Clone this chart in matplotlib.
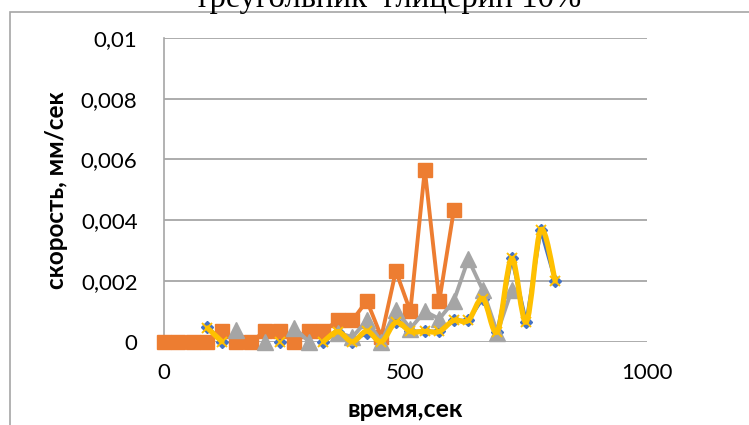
import numpy as np
import matplotlib.pyplot as plt
from matplotlib.path import Path
from matplotlib.patches import PathPatch, Rectangle

# ============================================================
# Data, nan = empty cell
# ============================================================
TITLE = "треугольник  глицерин 10%"
X_LABEL = "время,сек"
Y_LABEL = "скорость, мм/сек"

nan = np.nan

times = [0, 30, 60, 90, 120, 150, 180, 210, 240, 270, 300, 330, 360, 390,
         420, 450, 480, 510, 540, 570, 600, 630, 660, 690, 720, 750, 780, 810]

blue_vals = [nan, nan, nan, 0.0005, 0, nan, nan, nan, 0, nan, nan, 0, 0.00033, 0,
             0.0003, 0, 0.00066, 0.00034, 0.00034, 0.00034, 0.0007, 0.0007,
             0.00142, 0.00033, 0.00274, 0.00065, 0.00368, 0.002]

orange_vals = [0, 0, 0, 0, 0.00035, 0, 0, 0.00035, 0.00035, 0, 0.00035,
               0.00035, 0.0007, 0.0007, 0.00135, 0.00016, 0.00233, 0.001,
               0.00567, 0.00134, 0.00433]

gray_vals = [nan, nan, nan, nan, nan, 0.0004, nan, 0, nan, 0.00045, 0, nan, 0.0003,
             0.00015, 0.0007, 0, 0.00105, 0.00043, 0.001, 0.00075, 0.00134,
             0.00272, 0.0017, 0.0003, 0.0017]

yellow_vals = [nan, nan, nan, 0.00045, 0, nan, nan, nan, 0, nan, nan, 0, 0.00033, 0,
               0.00035, 0, 0.00064, 0.00034, 0.00034, 0.00034, 0.0007, 0.0007,
               0.00142, 0.00033, 0.00274, 0.00065, 0.00368, 0.002]

x_ticks = [0, 500, 1000]
x_tick_labels = ["0", "500", "1000"]
y_ticks = [0, 0.002, 0.004, 0.006, 0.008, 0.01]
y_tick_labels = ["0", "0,002", "0,004", "0,006", "0,008", "0,01"]

BLUE = '#4472C4'
ORANGE = '#ED7D31'
GRAY = '#A5A5A5'
YELLOW = '#FFC000'
GRID = '#a6a6a6'


def smooth_path(xs, ys):
    # Excel-like smoothed line: cubic Bezier through the points
    pts = np.column_stack([xs, ys]).astype(float)
    n = len(pts)
    verts = [pts[0]]
    codes = [Path.MOVETO]
    for i in range(n - 1):
        p0 = pts[i - 1] if i > 0 else pts[i]
        p1 = pts[i]
        p2 = pts[i + 1]
        p3 = pts[i + 2] if i + 2 < n else pts[i + 1]
        c1 = p1 + (p2 - p0) / 6.0
        c2 = p2 - (p3 - p1) / 6.0
        verts += [c1, c2, p2]
        codes += [Path.CURVE4] * 3
    return Path(verts, codes)


def segments(xs, ys):
    # runs of consecutive non-empty values
    xs = np.asarray(xs, float)
    ys = np.asarray(ys, float)
    runs, cur = [], []
    for x, y in zip(xs, ys):
        if np.isnan(y):
            if cur:
                runs.append(cur)
            cur = []
        else:
            cur.append((x, y))
    if cur:
        runs.append(cur)
    return runs


fig = plt.figure(figsize=(7.49, 4.25), dpi=100)
plt.rcParams['font.family'] = ['Lato', 'DejaVu Sans']

# chart area frame (runs off the right and bottom edges)
fig.add_artist(Rectangle((10 / 749, -0.1), 1.0, 1.1 - 12 / 425,
                         transform=fig.transFigure, fill=False,
                         edgecolor='#a6a6a6', linewidth=1.2))

ax = fig.add_axes([164 / 749, 1 - 341.7 / 425, (647 - 164) / 749, (341.7 - 38) / 425])

ax.set_xlim(0, 1000)
ax.set_ylim(0, 0.01)
ax.set_yticks(y_ticks)
ax.set_yticklabels(y_tick_labels, fontsize=16)
ax.set_xticks(x_ticks)
ax.set_xticklabels(x_tick_labels, fontsize=16)
ax.tick_params(axis='both', length=0)
ax.tick_params(axis='y', pad=19)
ax.tick_params(axis='x', pad=15)

ax.grid(True, axis='y', color=GRID, linewidth=1.3)
ax.set_axisbelow(True)
for side in ['top', 'right', 'bottom']:
    ax.spines[side].set_visible(False)
ax.spines['left'].set_color(GRID)
ax.spines['left'].set_linewidth(1.2)

t = np.array(times)

ax.plot(t, blue_vals, color=BLUE, linewidth=2.5, marker='D', markersize=6,
        markerfacecolor=BLUE, markeredgecolor=BLUE, clip_on=False, zorder=3)

ax.plot(t[:len(orange_vals)], orange_vals, color=ORANGE, linewidth=2.8,
        marker='s', markersize=10.5, markerfacecolor=ORANGE,
        markeredgecolor=ORANGE, clip_on=False, zorder=4)

ax.plot(t[:len(gray_vals)], gray_vals, color=GRAY, linewidth=2.8,
        marker='^', markersize=11, markerfacecolor=GRAY,
        markeredgecolor=GRAY, clip_on=False, zorder=5)

for run in segments(t, yellow_vals):
    if len(run) > 1:
        rx, ry = zip(*run)
        ax.add_patch(PathPatch(smooth_path(rx, ry), facecolor='none',
                               edgecolor=YELLOW, linewidth=3.8, zorder=6,
                               clip_on=False, capstyle='round',
                               joinstyle='round'))
ax.plot(t, yellow_vals, linestyle='none', marker='x', markersize=7.5,
        markeredgewidth=1.4, color=YELLOW, clip_on=False, zorder=7)

ax.set_xlabel(X_LABEL, fontsize=18, fontweight='bold')
ax.set_ylabel(Y_LABEL, fontsize=17.5, fontweight='bold')
ax.xaxis.set_label_coords(0.5, -0.185)
ax.yaxis.set_label_coords(-0.198, 0.5)

fig.text(388 / 749, 1 - 7 / 425, TITLE, ha='center', va='baseline',
         fontsize=23.6, family=['Liberation Serif', 'DejaVu Serif'])

plt.savefig('out.png', dpi=100)
plt.close()
